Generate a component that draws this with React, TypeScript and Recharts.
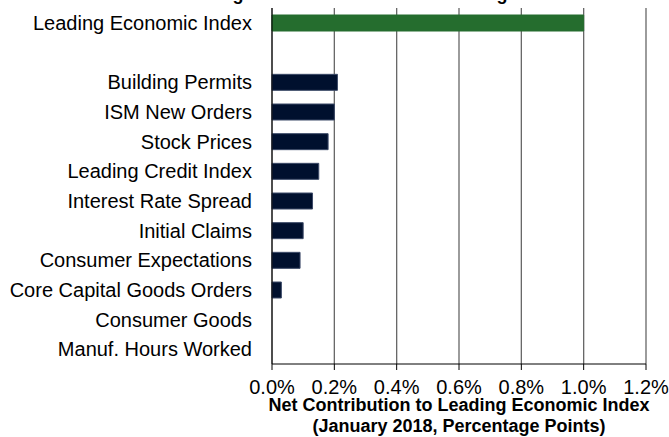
import React from "react";
import {
  BarChart,
  Bar,
  Cell,
  XAxis,
  YAxis,
  CartesianGrid,
} from "recharts";

const categories = [
  "Leading Economic Index",
  "",
  "Building Permits",
  "ISM New Orders",
  "Stock Prices",
  "Leading Credit Index",
  "Interest Rate Spread",
  "Initial Claims",
  "Consumer Expectations",
  "Core Capital Goods Orders",
  "Consumer Goods",
  "Manuf. Hours Worked",
];

const contributions = [1.0, null, 0.21, 0.2, 0.18, 0.15, 0.13, 0.1, 0.09, 0.03, 0, 0];

const xTicks = [0, 0.2, 0.4, 0.6, 0.8, 1.0, 1.2];
const rowEdges = [0, 1, 2, 3, 4, 5, 6, 7, 8, 9, 10, 11, 12];

const TITLE = "Leading Index: Contributions to Change";
const AXIS_TITLE = ["Net Contribution to Leading Economic Index", "(January 2018, Percentage Points)"];

const data = categories.map((name, i) => ({ name, value: contributions[i] }));

const FONT = "'Liberation Sans', Arial, sans-serif";

const EdgeTick = (props: any) => {
  const { x, y } = props;
  return <line x1={x - 6} x2={x + 6} y1={y} y2={y} stroke="#000" strokeWidth={1} />;
};

const AxisTitle = (props: any) => {
  const vb = props.viewBox;
  const cx = vb.x + vb.width / 2;
  return (
    <g>
      <text x={cx} y={vb.y + 47} textAnchor="middle" fontFamily={FONT} fontSize={18} fontWeight="bold" fill="#000">
        {AXIS_TITLE[0]}
      </text>
      <text x={cx} y={vb.y + 68} textAnchor="middle" fontFamily={FONT} fontSize={18} fontWeight="bold" fill="#000">
        {AXIS_TITLE[1]}
      </text>
    </g>
  );
};

export default function App() {
  return (
    <div style={{ position: "absolute", left: 0, top: 0, width: 669, height: 437, background: "#fff" }}>
      <svg width={669} height={437} style={{ position: "absolute", left: 0, top: 0 }}>
        <text x={346} y={0} textAnchor="middle" fontFamily={FONT} fontSize={18} fontWeight="bold" fill="#000">
          {TITLE}
        </text>
      </svg>
      <div style={{ position: "absolute", left: 0, top: 0 }}>
        <BarChart
          width={669}
          height={437}
          data={data}
          layout="vertical"
          margin={{ top: 8, right: 23, bottom: 0, left: 0 }}
          barCategoryGap={0}
        >
          <CartesianGrid horizontal={false} stroke="#666" strokeWidth={1.3} xAxisId="bottom" yAxisId="cat" />
          <XAxis
            xAxisId="bottom"
            type="number"
            domain={[0, 1.2]}
            ticks={xTicks}
            tickFormatter={(v: number) => `${v.toFixed(1)}%`}
            tick={{ fill: "#000", fontSize: 20, fontFamily: FONT }}
            tickSize={6}
            tickMargin={10}
            axisLine={{ stroke: "#000" }}
            tickLine={{ stroke: "#000" }}
            height={73}
            interval={0}
            label={<AxisTitle />}
          />
          <XAxis
            xAxisId="top"
            orientation="top"
            type="number"
            domain={[0, 1.2]}
            tick={false}
            tickLine={false}
            height={0}
            axisLine={{ stroke: "#666", strokeWidth: 1.3 }}
          />
          <YAxis
            yAxisId="cat"
            type="category"
            dataKey="name"
            width={272}
            tickLine={false}
            tickSize={0}
            tickMargin={20}
            interval={0}
            axisLine={{ stroke: "#000" }}
            tick={{ fill: "#000", fontSize: 20, fontFamily: FONT }}
          />
          <YAxis
            yAxisId="edges"
            type="number"
            domain={[0, 12]}
            ticks={rowEdges}
            interval={0}
            width={0}
            axisLine={false}
            tickLine={false}
            tickSize={0}
            tickMargin={0}
            tick={<EdgeTick />}
          />
          <Bar dataKey="value" xAxisId="bottom" yAxisId="cat" barSize={16} isAnimationActive={false}>
            {data.map((d, i) => (
              <Cell
                key={i}
                fill={i === 0 ? "#256D2E" : "#00102E"}
                stroke={i === 0 ? "#256D2E" : "#3C4A68"}
                strokeWidth={1}
              />
            ))}
          </Bar>
        </BarChart>
      </div>
    </div>
  );
}
